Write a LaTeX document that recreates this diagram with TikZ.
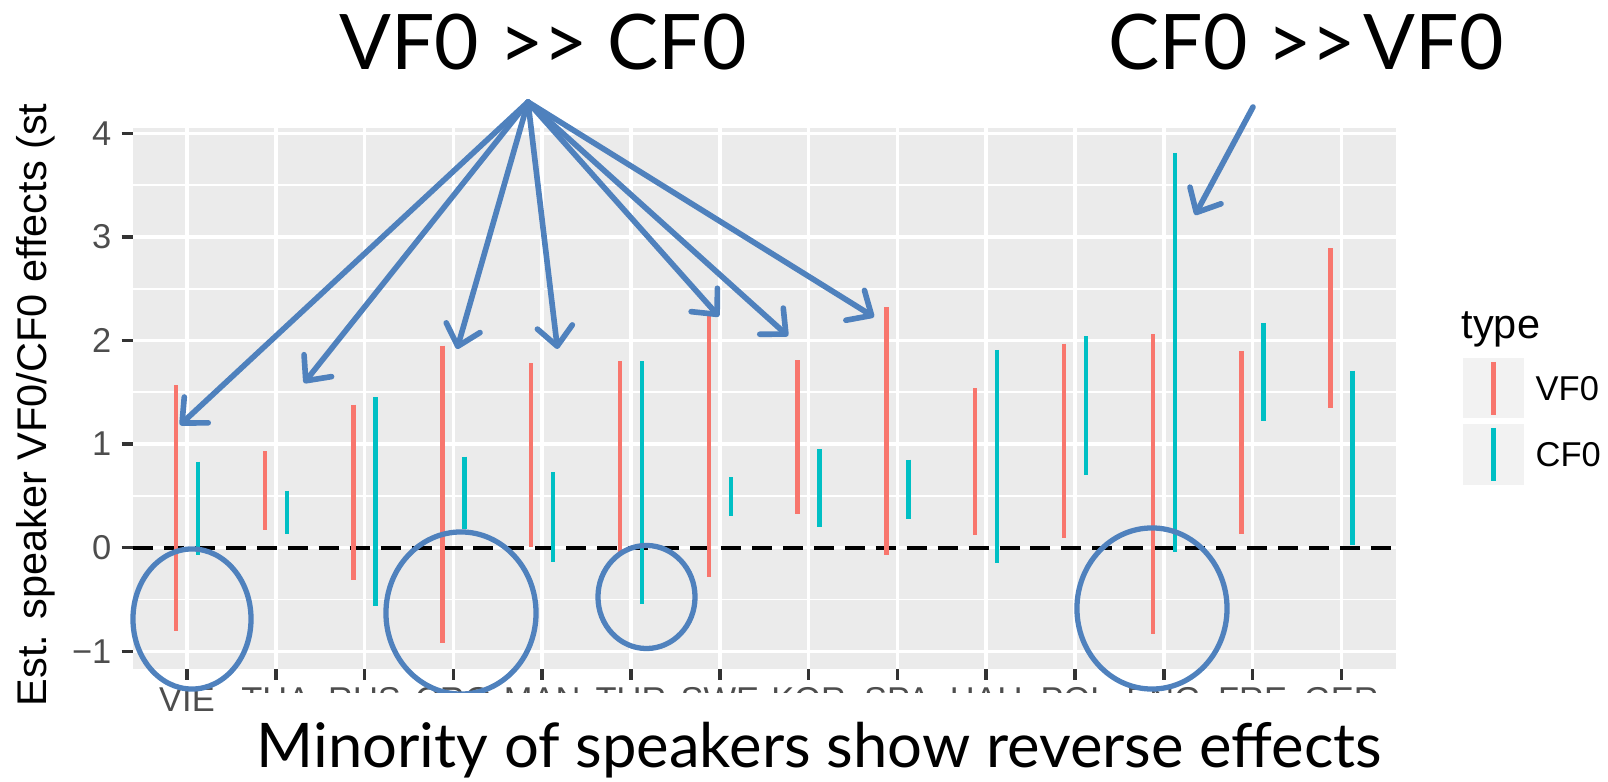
\documentclass[tikz,border=0pt]{standalone}
\usepackage{fontspec}
\setmainfont{Liberation Sans}
\newfontfamily\slidefont{Lato}
\usetikzlibrary{arrows.meta,shapes.geometric}
\definecolor{vfred}{HTML}{F8766D}
\definecolor{cfcyan}{HTML}{00BFC4}
\definecolor{panelgrey}{HTML}{EBEBEB}
\definecolor{keygrey}{HTML}{F2F2F2}
\definecolor{annotblue}{HTML}{4F81BD}
\definecolor{ticktext}{HTML}{4D4D4D}
\definecolor{tickmark}{HTML}{333333}
\begin{document}
\begin{tikzpicture}[x=0.01cm, y=-0.01cm,
                    majorgrid/.style = {draw=white, line width=1pt},
                    minorgrid/.style = {draw=white, line width=0.5pt},
                    tickline/.style = {draw=tickmark, line width=1pt},
                    ticklab/.style = {text=ticktext, inner sep=0pt,
                                      font=\fontsize{9.8}{11}\selectfont},
                    axtitle/.style = {inner sep=0pt,
                                      font=\fontsize{11.8}{13}\selectfont},
                    vfbar/.style = {draw=vfred, line width=1.2pt},
                    cfbar/.style = {draw=cfcyan, line width=1.2pt},
                    keybox/.style = {fill=keygrey, draw=none},
                    ring/.style = {shape = ellipse,
                                   draw = annotblue,
                                   line width = 1.5pt,
                                   inner sep = 0pt},
                    annot/.style = {draw=annotblue, line width=1.6pt, line cap=round,
                                    -{Straight Barb[length=5.5pt,width=10pt,round]}},
                    slidetext/.style = {inner sep=0pt, text=black}]
  \useasboundingbox (0,0) rectangle (1608,782);
  % panel and grid
  \fill[panelgrey] (133,128.3) rectangle (1396,669);
  \foreach \v in {3.5,2.5,1.5,0.5,-0.5}
    \draw[minorgrid] (133,{547.7-103.6*\v}) -- (1396,{547.7-103.6*\v});
  \foreach \v in {-1,...,4}
    \draw[majorgrid] (133,{547.7-103.6*\v}) -- (1396,{547.7-103.6*\v});
  \foreach \i in {0,...,13}
    \draw[majorgrid] ({187+88.8*\i},128.3) -- ({187+88.8*\i},669);
  % zero line
  \draw[black, line width=1.2pt, dash pattern=on 5.7pt off 3.1pt] (133,547.7) -- (1396,547.7);
  % error bars
  \foreach \i/\va/\vb/\ca/\cb in {0/1.57/-0.80/0.83/-0.07, 1/0.93/0.17/0.55/0.13,
      2/1.38/-0.31/1.45/-0.56, 3/1.95/-0.92/0.88/0.18, 4/1.78/0.01/0.73/-0.14,
      5/1.80/-0.04/1.80/-0.54, 6/2.27/-0.28/0.68/0.31, 7/1.81/0.33/0.95/0.20,
      8/2.32/-0.07/0.85/0.28, 9/1.54/0.12/1.91/-0.15, 10/1.97/0.09/2.04/0.70,
      11/2.06/-0.83/3.81/-0.04, 12/1.90/0.13/2.17/1.22, 13/2.89/1.35/1.71/0.03}
  {
    \draw[vfbar] ({176+88.8*\i},{547.7-103.6*\va}) -- ({176+88.8*\i},{547.7-103.6*\vb});
    \draw[cfbar] ({198+88.8*\i},{547.7-103.6*\ca}) -- ({198+88.8*\i},{547.7-103.6*\cb});
  }
  % axes
  \foreach \v/\t/\n in {4/4/4, 3/3/3, 2/2/2, 1/1/1, 0/0/0, -1/−1/m1}
  {
    \draw[tickline] (121.7,{547.7-103.6*\v}) -- (133,{547.7-103.6*\v});
    \node[ticklab, anchor=east] (ylab\n) at (112,{547.7-103.6*\v}) {\t};
  }
  \foreach \i/\lab in {0/VIE, 1/THA, 2/RUS, 3/CRO, 4/MAN, 5/TUR, 6/SWE,
                       7/KOR, 8/SPA, 9/HAU, 10/POL, 11/ENG, 12/FRE, 13/GER}
  {
    \draw[tickline] ({187+88.8*\i},669) -- ({187+88.8*\i},680);
    \node[ticklab, anchor=base] (xlab\lab) at ({187+88.8*\i},711) {\lab};
  }
  \node[axtitle, rotate=90, anchor=base west] (ytitle) at (46,707)
    {Est. speaker VF0/CF0 effects (st};
  % legend
  \node[axtitle, anchor=base west] (legtitle) at (1461,339) {type};
  \fill[keybox] (1463,358) rectangle (1524,418);
  \fill[keybox] (1463,424) rectangle (1524,485);
  \draw[vfbar] (1493.5,362) -- (1493.5,415);
  \draw[cfbar] (1493.5,428) -- (1493.5,481);
  \node[ticklab, text=black, anchor=base west] (legvf) at (1535,400) {VF0};
  \node[ticklab, text=black, anchor=base west] (legcf) at (1535,466) {CF0};
  % circled reverse effects
  \node[ring, minimum width=1.18cm, minimum height=1.40cm] (ringVIE) at (192,619) {};
  \node[ring, minimum width=1.50cm, minimum height=1.62cm] (ringCRO) at (461,613) {};
  \node[ring, minimum width=0.97cm, minimum height=1.03cm] (ringTUR) at (646.5,597) {};
  \node[ring, minimum width=1.50cm, minimum height=1.61cm] (ringENG) at (1152,608.5) {};
  % caption box over the labels
  \fill[white] (226,693) rectangle (1608,782);
  \node[slidetext, anchor=base west, font=\slidefont\fontsize{17.5}{20}\selectfont]
    (caption) at (256,767) {Minority of speakers show reverse effects};
  \node[slidetext, anchor=base west, font=\slidefont\fontsize{21.8}{24}\selectfont]
    (vfhead) at (339,70) {VF0 >> CF0};
  \node[slidetext, anchor=base west, font=\slidefont\fontsize{21.8}{24}\selectfont]
    (cfhead) at (1108,70) {CF0 >>\hspace{0.1em}VF0};
  % arrows
  \coordinate (apex) at (528,102);
  \coordinate (tipVIE) at (180,425);
  \coordinate (tipTHA) at (304,383);
  \coordinate (tipCRO) at (457,349);
  \coordinate (tipMAN) at (557.5,349);
  \coordinate (tipSWE) at (719,316.5);
  \coordinate (tipKOR) at (788,336);
  \coordinate (tipSPA) at (874,317);
  \coordinate (cfstart) at (1253,107);
  \coordinate (tipENG) at (1195,215);
  \foreach \t in {VIE,THA,CRO,MAN,SWE,KOR,SPA}
    \draw[annot] (apex) -- (tip\t);
  \draw[annot] (cfstart) -- (tipENG);
\end{tikzpicture}
\end{document}
